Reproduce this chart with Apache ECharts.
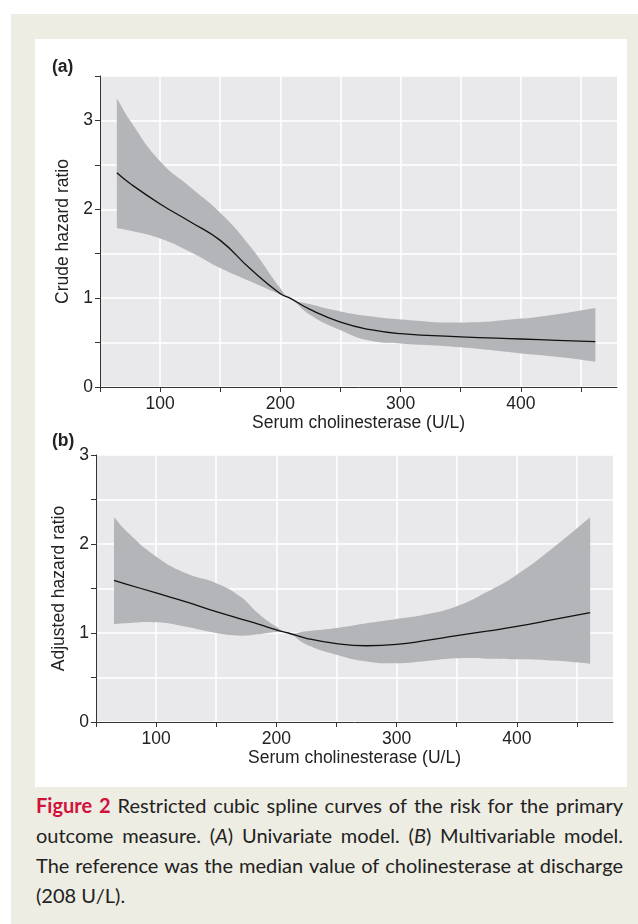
<!DOCTYPE html>
<html>
<head>
<meta charset="utf-8">
<script src="https://cdn.jsdelivr.net/npm/echarts@6/dist/echarts.min.js"></script>
<style>
  html, body { margin: 0; padding: 0; background: #fff; }
  #page { position: relative; width: 638px; height: 924px; overflow: hidden; }
  #frame { position: absolute; left: 11px; top: 14px; width: 627px; height: 910px; background: #eeede3; }
  #panel { position: absolute; left: 35px; top: 39px; width: 592px; height: 748px; background: #fff; }
  #chart { position: absolute; left: 0; top: 0; width: 638px; height: 790px; }
  #caption { position: absolute; left: 36px; top: 790px; width: 587px;
    font-family: Lato, 'Open Sans', sans-serif; font-size: 20px; line-height: 30px; color: #222; }
  #caption .ln { display: flex; justify-content: space-between; white-space: nowrap; }
  #caption .ln.last { justify-content: flex-start; }
  #caption .fig { color: #d0123c; font-weight: bold; }
</style>
</head>
<body>
<div id="page">
  <div id="frame"></div>
  <div id="panel"></div>
  <div id="chart"></div>
  <div id="caption"></div>
</div>
<script>
// Panel (a): crude hazard ratio spline with 95% band
const xA = [64, 75, 100, 125, 150, 175, 200, 208, 225, 250, 275, 300, 350, 400, 430, 462];
const hrA = [2.41, 2.29, 2.06, 1.86, 1.65, 1.33, 1.05, 1.0, 0.87, 0.73, 0.645, 0.60, 0.565, 0.54, 0.525, 0.51];
const upA = [3.25, 3.00, 2.54, 2.25, 1.96, 1.58, 1.11, 1.0, 0.93, 0.85, 0.795, 0.76, 0.725, 0.77, 0.82, 0.89];
const loA = [1.79, 1.76, 1.67, 1.52, 1.34, 1.19, 1.04, 1.0, 0.81, 0.64, 0.52, 0.49, 0.446, 0.378, 0.34, 0.285];

// Panel (b): adjusted hazard ratio spline with 95% band
const xB = [65, 75, 100, 125, 150, 170, 185, 200, 210, 225, 250, 275, 300, 325, 350, 375, 400, 430, 461];
const hrB = [1.59, 1.55, 1.45, 1.35, 1.24, 1.16, 1.10, 1.035, 1.0, 0.94, 0.88, 0.857, 0.872, 0.917, 0.97, 1.02, 1.074, 1.15, 1.23];
const upB = [2.30, 2.15, 1.86, 1.67, 1.56, 1.41, 1.22, 1.07, 1.0, 1.02, 1.056, 1.11, 1.157, 1.21, 1.30, 1.46, 1.655, 1.955, 2.30];
const loB = [1.10, 1.11, 1.12, 1.07, 1.00, 0.97, 0.985, 1.01, 1.0, 0.87, 0.756, 0.68, 0.66, 0.685, 0.715, 0.712, 0.705, 0.69, 0.655];

const xTicks = [50, 100, 150, 200, 250, 300, 350, 400, 450];
const xLabels = [100, 200, 300, 400];
const yTicksA = [0, 1, 2, 3];
const yTicksB = [0, 1, 2, 3];
const xTitle = 'Serum cholinesterase (U/L)';

const captionLines = [
  ['<span class="fig">Figure</span>', '<span class="fig">2</span>', 'Restricted', 'cubic', 'spline', 'curves', 'of', 'the', 'risk', 'for', 'the', 'primary'],
  ['outcome', 'measure.', '(<i>A</i>)', 'Univariate', 'model.', '(<i>B</i>)', 'Multivariable', 'model.'],
  ['The', 'reference', 'was', 'the', 'median', 'value', 'of', 'cholinesterase', 'at', 'discharge'],
  ['(208&nbsp;U/L).']
];

const FONT = "'Liberation Sans', Arial, sans-serif";
const FS = 17.5;
const INK = '#222';
const BAND = '#b4b5b9';
const SMOOTH = 0.5;

document.getElementById('caption').innerHTML = captionLines.map((words, i) =>
  '<div class="ln' + (i === captionLines.length - 1 ? ' last' : '') + '">' +
  words.map(w => '<span>' + w + '</span>').join('') + '</div>').join('');

// control points the same way the line series smooths its points
function ctrl(p, i) {
  const prev = p[i - 1] || p[i], next = p[i + 1] || p[i];
  const vx = next[0] - prev[0], vy = next[1] - prev[1];
  const lp = Math.hypot(p[i][0] - prev[0], p[i][1] - prev[1]);
  const ln = Math.hypot(next[0] - p[i][0], next[1] - p[i][1]);
  const r = lp + ln > 0 ? ln / (lp + ln) : 0.5;
  return {
    before: [p[i][0] - vx * SMOOTH * (1 - r), p[i][1] - vy * SMOOTH * (1 - r)],
    after: [p[i][0] + vx * SMOOTH * r, p[i][1] + vy * SMOOTH * r]
  };
}

function curve(p) {
  let d = '';
  for (let i = 0; i < p.length - 1; i++) {
    const a = ctrl(p, i).after, b = ctrl(p, i + 1).before;
    d += ' C' + a[0] + ' ' + a[1] + ' ' + b[0] + ' ' + b[1] + ' ' + p[i + 1][0] + ' ' + p[i + 1][1];
  }
  return d;
}

function bandSeries(idx, xs, up, lo) {
  return {
    type: 'custom', xAxisIndex: idx, yAxisIndex: idx, silent: true, clip: true,
    data: xs.map((x, i) => [x, lo[i], up[i]]),
    encode: { x: 0, y: [1, 2] },
    renderItem: function (params, api) {
      if (params.dataIndex !== 0) return null;
      const top = xs.map((x, i) => api.coord([x, up[i]]));
      const bot = xs.map((x, i) => api.coord([x, lo[i]])).reverse();
      const d = 'M' + top[0][0] + ' ' + top[0][1] + curve(top) +
        ' L' + bot[0][0] + ' ' + bot[0][1] + curve(bot) + ' Z';
      return { type: 'path', shape: { pathData: d }, style: { fill: BAND } };
    }
  };
}

function lineSeries(idx, xs, hr) {
  return {
    type: 'line', xAxisIndex: idx, yAxisIndex: idx,
    data: xs.map((x, i) => [x, hr[i]]),
    smooth: SMOOTH, symbol: 'none',
    lineStyle: { color: '#111', width: 1.3 }, z: 5
  };
}

function xAxisFor(gridIndex) {
  return {
    gridIndex: gridIndex,
    type: 'value', min: 50, max: 480, interval: 50,
    name: xTitle, nameLocation: 'middle', nameGap: 27,
    nameTextStyle: { fontFamily: FONT, fontSize: FS, color: INK },
    axisLine: { onZero: false, lineStyle: { color: '#333', width: 1 } },
    axisTick: { length: 5, customValues: xTicks, lineStyle: { color: '#333' } },
    axisLabel: { customValues: xLabels, margin: 8, fontFamily: FONT, fontSize: FS, color: INK },
    splitLine: { lineStyle: { color: '#fff', width: 1.5 } }
  };
}

function yAxisFor(gridIndex, max, name, labels, gap) {
  return {
    gridIndex: gridIndex,
    type: 'value', min: 0, max: max, interval: 0.5,
    name: name, nameLocation: 'middle', nameGap: gap,
    nameTextStyle: { fontFamily: FONT, fontSize: FS, color: INK },
    axisLine: { show: true, onZero: false, lineStyle: { color: '#333', width: 1 } },
    axisTick: { show: true, length: 5, lineStyle: { color: '#333' } },
    axisLabel: { customValues: labels, margin: 7, fontFamily: FONT, fontSize: FS, color: INK },
    splitLine: { lineStyle: { color: '#fff', width: 1.5 } }
  };
}

const chart = echarts.init(document.getElementById('chart'), null, { renderer: 'canvas' });
const panelLabel = (letter, top) => ({
  text: '{p|(}{b|' + letter + '}{p|)}', left: 52, top: top, padding: 0,
  textStyle: {
    rich: {
      p: { fontFamily: FONT, fontSize: FS, color: INK },
      b: { fontFamily: FONT, fontSize: FS, fontWeight: 'bold', color: INK }
    }
  }
});

chart.setOption({
  backgroundColor: 'transparent',
  animation: false,
  title: [panelLabel('a', 58), panelLabel('b', 432)],
  grid: [
    { left: 100, top: 76, width: 517, height: 311, show: true, backgroundColor: '#e9e9eb', borderWidth: 0 },
    { left: 96, top: 455, width: 517, height: 267, show: true, backgroundColor: '#e9e9eb', borderWidth: 0 }
  ],
  xAxis: [xAxisFor(0), xAxisFor(1)],
  yAxis: [
    yAxisFor(0, 3.5, 'Crude hazard ratio', yTicksA, 23),
    yAxisFor(1, 3, 'Adjusted hazard ratio', yTicksB, 22)
  ],
  series: [
    bandSeries(0, xA, upA, loA), lineSeries(0, xA, hrA),
    bandSeries(1, xB, upB, loB), lineSeries(1, xB, hrB)
  ]
});
</script>
</body>
</html>
